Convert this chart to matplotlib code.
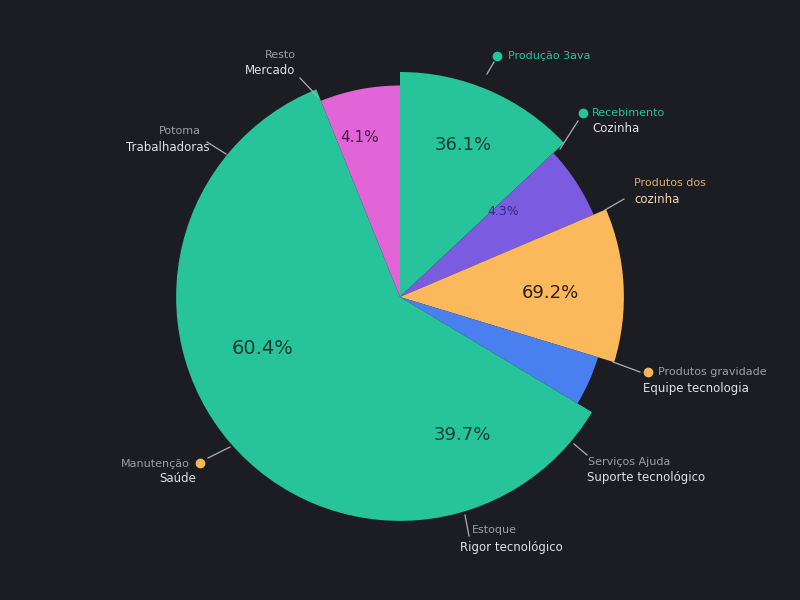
import matplotlib
matplotlib.use("Agg")
import matplotlib.pyplot as plt

# ---- data ----
shares = [13.0, 5.6, 11.1, 3.9, 60.3, 6.1]
radii = [1.0, 0.935, 0.995, 0.92, 0.995, 0.94]
colors = ["#27c49b", "#7b5be0", "#fbb95b", "#4a7ff0", "#27c49b", "#e165d7"]
pct_texts = ["36.1%", "4.3%", "69.2%", "60.4%", "39.7%", "4.1%"]
pct_xy = [(0.28, 0.676), (0.458, 0.378), (0.667, 0.018), (-0.613, -0.231), (0.276, -0.613), (-0.178, 0.707)]
pct_sizes = [13, 9, 13, 14, 13, 11]
pct_colors = ["#173d33", "#3a2780", "#2a2010", "#173d33", "#173d33", "#4a1a45"]

top_lines = ["Resto", "Potoma", "Produção 3ava", "Recebimento", "Produtos dos",
             "Produtos gravidade", "Serviços Ajuda", "Estoque", "Manutenção"]
bottom_lines = ["Mercado", "Trabalhadoras", "", "Cozinha", "cozinha",
                "Equipe tecnologia", "Suporte tecnológico", "Rigor tecnológico", "Saúde"]

BG = "#1b1d23"
fig = plt.figure(figsize=(8, 6), dpi=100, facecolor=BG)
ax = fig.add_axes([0, 0, 1, 1])
ax.set_facecolor(BG)
S = 225.0
cx, cy = 400, 297

wedges, _ = ax.pie(shares, colors=colors, startangle=90, counterclock=False,
                   radius=1.0, wedgeprops=dict(linewidth=0))
for w, r in zip(wedges, radii):
    w.set_radius(r)

ax.set_xlim(-cx / S, (800 - cx) / S)
ax.set_ylim(-(600 - cy) / S, cy / S)
ax.set_aspect("equal")
ax.axis("off")

for t, (x, y), s, c in zip(pct_texts, pct_xy, pct_sizes, pct_colors):
    ax.text(x, y, t, ha="center", va="center", fontsize=s, color=c)

def P(px, py):
    return ((px - cx) / S, (cy - py) / S)

# leader lines (pixel coords)
leaders = [((300, 78), (318, 97)), ((207, 142), (226, 154)), ((494, 62), (487, 74)),
           ((578, 121), (560, 149)), ((624, 199), (605, 210)), ((640, 372), (613, 362)),
           ((587, 455), (574, 444)), ((465, 515), (469, 536)), ((208, 458), (230, 447))]
for (a, b) in leaders:
    p1, p2 = P(*a), P(*b)
    ax.plot([p1[0], p2[0]], [p1[1], p2[1]], color="#aab0b8", lw=0.9)

GRAY = "#9aa0a8"
WHITE = "#dfe2e6"
TEAL = "#27c49b"
ORANGE = "#f0b85a"

specs = [
    ((280, 55), "center", GRAY, (270, 70), "center", WHITE),
    ((180, 131), "center", GRAY, (168, 147), "center", WHITE),
    ((508, 56), "left", TEAL, (508, 72), "left", WHITE),
    ((592, 113), "left", TEAL, (592, 128), "left", WHITE),
    ((634, 183), "left", "#d8b070", (634, 199), "left", "#f3d9a6"),
    ((658, 372), "left", GRAY, (643, 388), "left", WHITE),
    ((588, 462), "left", GRAY, (587, 478), "left", WHITE),
    ((472, 530), "left", GRAY, (460, 548), "left", WHITE),
    ((190, 464), "right", GRAY, (178, 479), "center", WHITE),
]
for (tp, tha, tc, bp, bha, bc), t1, t2 in zip(specs, top_lines, bottom_lines):
    ax.text(*P(*tp), t1, ha=tha, va="center", fontsize=8, color=tc)
    if t2:
        ax.text(*P(*bp), t2, ha=bha, va="center", fontsize=8.5, color=bc)

dots = [((497, 56), TEAL), ((583, 113), TEAL), ((648, 372), ORANGE), ((200, 463), ORANGE)]
for (p, c) in dots:
    ax.plot(*P(*p), "o", color=c, ms=6)

fig.savefig("out.png", dpi=100, facecolor=BG)
